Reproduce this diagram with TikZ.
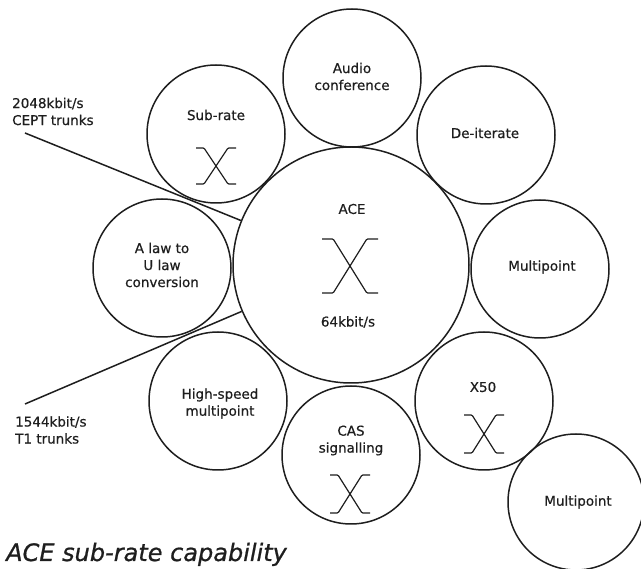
\documentclass[tikz,border=0pt]{standalone}
\usepackage{fontspec}
\setmainfont{DejaVu Sans}
\newfontfamily\labelfont[FakeBold=0.5]{DejaVu Sans}
\newfontfamily\capfont[FakeBold=0.8]{DejaVu Sans}
\definecolor{ink}{HTML}{1E1E1E}
\begin{document}
\begin{tikzpicture}[x=1pt,y=-1pt,
  ring/.style={circle, draw=ink, line width=1.5pt, inner sep=0pt, minimum size=#1},
  txt/.style={text=ink, font=\labelfont\fontsize{13.5}{17}\selectfont, align=center, inner sep=0pt},
  ltxt/.style={text=ink, font=\labelfont\fontsize{13.5}{17}\selectfont, align=left, inner sep=0pt, anchor=west},
  feed/.style={draw=ink, line width=1.5pt},
  xline/.style={draw=ink, line width=1.2pt, rounded corners=1pt},
  xsym/.pic={
    \draw[xline] (-1,-1) -- (-0.6,-1) -- (0.6,1) -- (1,1);
    \draw[xline] (1,-1) -- (0.6,-1) -- (-0.6,1) -- (-1,1);
  }]
\fill[white] (0,0) rectangle (641,569);
\useasboundingbox (0,0) rectangle (641,569);

% circles
\node[ring=236] (ace) at (351,265) {};
\node[ring=138] (audio) at (352,78) {};
\node[ring=138] (deit) at (486,135) {};
\node[ring=138] (mp) at (540,269) {};
\node[ring=138] (x50) at (484,401) {};
\node[ring=136] (mp2) at (576,502) {};
\node[ring=138] (cas) at (351,455) {};
\node[ring=138] (hs) at (218,401) {};
\node[ring=138] (alaw) at (162,268) {};
\node[ring=138] (sub) at (216,134) {};

% switch symbols
\pic[xscale=28, yscale=27] at (350,266) {xsym};
\pic[xscale=20, yscale=18] at (216,166) {xsym};
\pic[xscale=20, yscale=19] at (484,434) {xsym};
\pic[xscale=20, yscale=19] at (350,494) {xsym};

% texts
\node[txt] (tace) at (352,209) {ACE};
\node[txt] (t64) at (348,322) {64kbit/s};
\node[txt] (taudio) at (352,76.5) {Audio\\conference};
\node[txt] (tdeit) at (485,133) {De-iterate};
\node[txt] (tmp) at (542,267) {Multipoint};
\node[txt] (tx50) at (483,387) {X50};
\node[txt] (tmp2) at (578,502) {Multipoint};
\node[txt] (tcas) at (351,440.5) {CAS\\signalling};
\node[txt] (ths) at (220,403.5) {High-speed\\multipoint};
\node[txt] (talaw) at (162,265) {A law to\\U law\\conversion};
\node[txt] (tsub) at (216,115) {Sub-rate};
\node[ltxt] (t2048) at (12,111.5) {2048kbit/s\\CEPT trunks};
\node[ltxt] (t1544) at (15,430) {1544kbit/s\\T1 trunks};

% feeder lines
\coordinate (c2048) at (25,133);
\coordinate (c1544) at (25,404);
\draw[feed] (c2048) -- (ace.158.8);
\draw[feed] (c1544) -- (ace.203.4);

% caption
\node[text=ink, font=\capfont\fontsize{24}{28}\selectfont\itshape, anchor=base west, inner sep=0pt] (cap) at (6,561) {ACE sub-rate capability};
\end{tikzpicture}
\end{document}
